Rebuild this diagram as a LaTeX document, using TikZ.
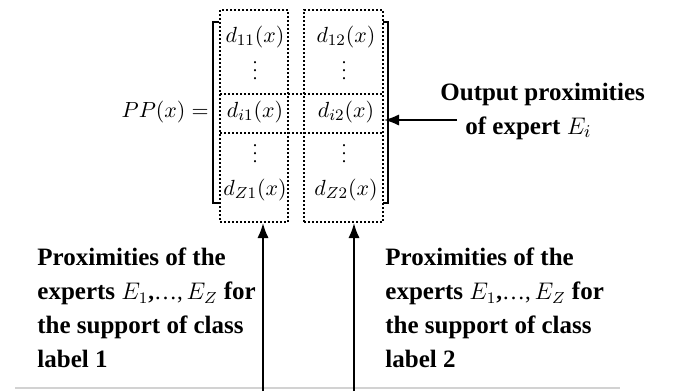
\documentclass[tikz,border=0pt]{standalone}
\usepackage{amsmath}
\usepackage{fontspec}
\setmainfont{Liberation Serif}
\usetikzlibrary{arrows.meta,positioning,fit}

\newcommand{\explist}{{\fontsize{11.5}{17}\selectfont$E_1$,\mdseries…,\,$E_Z$}}
\newcommand{\coldots}{\vbox{\baselineskip4pt\lineskiplimit0pt\hbox{.}\hbox{.}\hbox{.}}}

\begin{document}
\begin{tikzpicture}[x=0.5pt,y=-0.5pt,>=Latex,
  every node/.style={font=\fontsize{11}{13}\selectfont},
  colbox/.style={draw,line width=1pt,dash pattern=on 1pt off 1pt,inner sep=0pt},
  rowline/.style={line width=1pt,dash pattern=on 1pt off 1pt},
  entry/.style={inner sep=0pt},
  vdot/.style={inner sep=0pt,font=\fontsize{9}{9}\selectfont},
  note/.style={font=\fontsize{12.5}{17}\selectfont\bfseries,align=left,inner sep=0pt},
  arr/.style={->,line width=1pt}]
\useasboundingbox (0,0) rectangle (673,391);
% matrix columns
\node[colbox,fit={(220,10) (288,222)}] (col1) {};
\node[colbox,fit={(304,10) (383,222)}] (col2) {};
\draw[rowline] (220,94) -- (383,94);
\draw[rowline] (220,133) -- (383,133);
% brackets
\draw[line width=0.7pt] (219,22) -- (213,22) -- (213,203) -- (219,203);
\draw[line width=0.7pt] (383,22) -- (388,22) -- (388,203) -- (383,203);
% entries
\node[entry] (d11) at (255,37) {$d_{11}(x)$};
\node[entry] (d12) at (346,37) {$d_{12}(x)$};
\node[vdot] (v11) at (255,71) {\coldots};
\node[vdot] (v12) at (344,71) {\coldots};
\node[entry] (di1) at (255,112) {$d_{i1}(x)$};
\node[entry] (di2) at (346,112) {$d_{i2}(x)$};
\node[vdot] (v21) at (255,154) {\coldots};
\node[vdot] (v22) at (344,154) {\coldots};
\node[entry] (dz1) at (255,190) {$d_{Z1}(x)$};
\node[entry] (dz2) at (346,190) {$d_{Z2}(x)$};
\node[entry,anchor=east] (pp) at (209,112) {$PP(x) =$};
% labels
\node[note,anchor=west] (out) at (440,111) {Output proximities\\\hspace*{12.5pt}of expert $E_i$};
\node[note,anchor=west] (sup1) at (37,308) {Proximities of the\\experts \explist\ for\\the support of class\\label 1};
\node[note,anchor=west] (sup2) at (385,308) {Proximities of the\\experts \explist\ for\\the support of class\\label 2};
% arrows
\coordinate (outtail) at (457,120);
\coordinate (up1) at (263,391);
\coordinate (up2) at (354,391);
\draw[gray!35,line width=0.8pt] (15,388) -- (620,388);
\draw[arr] (outtail) -- (outtail -| col2.east);
\draw[arr] (up1) -- (up1 |- col1.south);
\draw[arr] (up2) -- (up2 |- col2.south);
\end{tikzpicture}
\end{document}
